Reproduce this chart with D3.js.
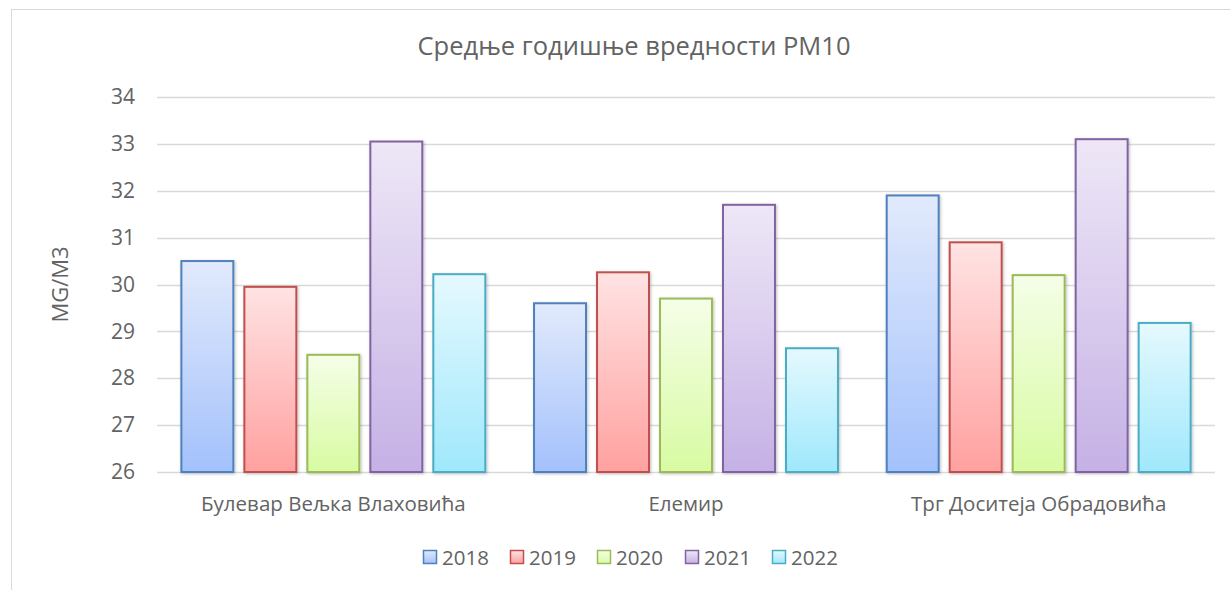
<!DOCTYPE html>
<html>
<head>
<meta charset="utf-8">
<script src="https://cdn.jsdelivr.net/npm/d3@7"></script>
<style>
  body { margin: 0; background: #fff; }
  text { font-family: 'Open Sans', 'Noto Sans', sans-serif; fill: #636363; }
</style>
</head>
<body>
<div id="chart"></div>
<script>
const categories = ['Булевар Вељка Влаховића', 'Елемир', 'Трг Доситеја Обрадовића'];
const years = ['2018', '2019', '2020', '2021', '2022'];
const values2018 = [30.5, 29.6, 31.9];
const values2019 = [29.95, 30.26, 30.9];
const values2020 = [28.5, 29.7, 30.2];
const values2021 = [33.05, 31.7, 33.1];
const values2022 = [30.22, 28.64, 29.18];
const yTicks = [26, 27, 28, 29, 30, 31, 32, 33, 34];

const seriesValues = [values2018, values2019, values2020, values2021, values2022];

const palette = {
  '2018': { stroke: '#4f81bd', top: '#e2eafc', bottom: '#a3c1fc' },
  '2019': { stroke: '#c0504d', top: '#ffe3e3', bottom: '#ffa1a0' },
  '2020': { stroke: '#9bbb59', top: '#f5fee8', bottom: '#d8fba2' },
  '2021': { stroke: '#8064a2', top: '#eee7f7', bottom: '#c5b1e5' },
  '2022': { stroke: '#4bacc6', top: '#e5f9fe', bottom: '#9fe8fc' },
};

const width = 1230;
const height = 590;
const plotLeft = 157;
const plotRight = 1215;
const plotTop = 97;
const plotBottom = 472;

const svg = d3.select('#chart').append('svg').attr('width', width).attr('height', height);

const defs = svg.append('defs');
years.forEach((yr) => {
  const g = defs.append('linearGradient').attr('id', `grad${yr}`).attr('x1', 0).attr('y1', 0).attr('x2', 0).attr('y2', 1);
  g.append('stop').attr('offset', '0%').attr('stop-color', palette[yr].top);
  g.append('stop').attr('offset', '100%').attr('stop-color', palette[yr].bottom);
});
const shadow = defs.append('filter').attr('id', 'shadow').attr('x', '-20%').attr('y', '-20%').attr('width', '140%').attr('height', '140%');
shadow.append('feDropShadow').attr('dx', 1).attr('dy', 1).attr('stdDeviation', 1.5).attr('flood-color', '#000').attr('flood-opacity', 0.25);

// chart frame
svg.append('rect')
  .attr('x', 11.5).attr('y', 9.5)
  .attr('width', 1240).attr('height', 600)
  .attr('fill', 'none').attr('stroke', '#d9d9d9').attr('stroke-width', 1);

const x0 = d3.scaleBand().domain(categories).range([plotLeft, plotRight]).padding(0);
const x1 = d3.scaleBand().domain(years).range([0, x0.bandwidth()]).paddingInner(0.175).paddingOuter(0.387);
const y = d3.scaleLinear().domain([26, 34]).range([plotBottom, plotTop]);

// gridlines
svg.append('g')
  .selectAll('line')
  .data(yTicks)
  .join('line')
  .attr('x1', plotLeft)
  .attr('x2', plotRight)
  .attr('y1', (d) => Math.round(y(d)) + 0.5)
  .attr('y2', (d) => Math.round(y(d)) + 0.5)
  .attr('stroke', '#d9d9d9')
  .attr('stroke-width', 1.3);

// y axis labels
const yAxis = d3.axisLeft(y).tickValues(yTicks).tickSize(0).tickPadding(0);
svg.append('g')
  .attr('transform', `translate(${plotLeft - 22}, 0)`)
  .call(yAxis)
  .call((g) => g.select('.domain').remove())
  .call((g) => g.selectAll('text').attr('fill', '#636363').style('font-size', '21px').style('font-family', null));

svg.append('text')
  .attr('transform', 'rotate(-90)')
  .attr('x', -(plotTop + plotBottom) / 2)
  .attr('y', 68)
  .attr('text-anchor', 'middle')
  .style('font-size', '22px')
  .text('MG/M3');

// bars
const groups = svg.append('g')
  .selectAll('g')
  .data(categories)
  .join('g')
  .attr('transform', (d) => `translate(${x0(d)}, 0)`);

groups.selectAll('rect')
  .data((c, ci) => years.map((yr, si) => ({ yr, value: seriesValues[si][ci] })))
  .join('rect')
  .attr('x', (d) => x1(d.yr))
  .attr('y', (d) => y(d.value))
  .attr('width', x1.bandwidth())
  .attr('height', (d) => y(26) - y(d.value))
  .attr('fill', (d) => `url(#grad${d.yr})`)
  .attr('stroke', (d) => palette[d.yr].stroke)
  .attr('stroke-width', 2)
  .attr('filter', 'url(#shadow)');

// category axis
const xAxis = d3.axisBottom(x0).tickSize(0).tickPadding(0);
svg.append('g')
  .attr('transform', `translate(0, ${plotBottom + 39})`)
  .call(xAxis)
  .call((g) => g.select('.domain').remove())
  .call((g) => g.selectAll('text').attr('fill', '#636363').attr('dy', 0).style('font-size', '20.5px').style('font-family', null));

// title
svg.append('text')
  .attr('x', 634)
  .attr('y', 55)
  .attr('text-anchor', 'middle')
  .style('font-size', '25.5px')
  .text('Средње годишње вредности PM10');

// legend
const legendX = [423, 510, 597, 685, 772];
const legend = svg.append('g');
years.forEach((yr, i) => {
  const g = legend.append('g').attr('transform', `translate(${legendX[i]}, 550)`);
  g.append('rect')
    .attr('x', 0.5).attr('y', 0.5)
    .attr('width', 13).attr('height', 13)
    .attr('fill', `url(#grad${yr})`)
    .attr('stroke', palette[yr].stroke)
    .attr('stroke-width', 1.5);
  g.append('text')
    .attr('x', 19)
    .attr('y', 14.5)
    .style('font-size', '20.5px')
    .text(yr);
});
</script>
</body>
</html>
